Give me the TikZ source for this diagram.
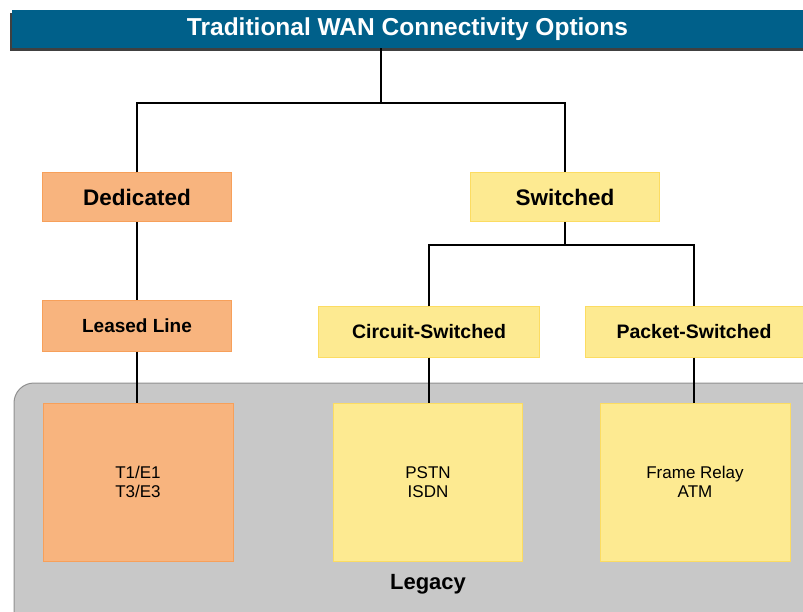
\documentclass[tikz,border=0pt]{standalone}
\usepackage{fontspec}
\setmainfont{Liberation Sans}
\definecolor{titleblue}{HTML}{00608A}
\definecolor{orfill}{HTML}{F8B47E}
\definecolor{ordraw}{HTML}{F7A05A}
\definecolor{yefill}{HTML}{FDEA91}
\definecolor{yedraw}{HTML}{FCDC62}
\definecolor{legfill}{HTML}{C8C8C8}
\definecolor{legdraw}{HTML}{909090}
\begin{document}
\begin{tikzpicture}[x=1pt, y=-1pt]
\tikzset{box/.style={rectangle, line width=1pt, inner sep=0pt, align=center}}
\tikzset{orbox/.style={box, fill=orfill, draw=ordraw}}
\tikzset{yebox/.style={box, fill=yefill, draw=yedraw}}
\tikzset{wire/.style={line width=2.2pt, black}}
\useasboundingbox (0,0) rectangle (803,612);
% legacy area
\draw[fill=legfill, draw=legdraw, line width=1pt, rounded corners=20pt] (14,383) rectangle (840,650);
\node[font=\bfseries\fontsize{22}{26}\selectfont] (legacy) at (428,584) {Legacy};
% title bar with its shadow
\fill[black!75] (10,13) rectangle (803,51);
\node[fill=titleblue, minimum width=791pt, minimum height=38pt, inner sep=0pt,
  text=white, font=\bfseries\fontsize{24.5}{28}\selectfont] (title) at (407.5,29) {Traditional WAN Connectivity Options};
% tree boxes
\node[orbox, minimum width=189pt, minimum height=49pt, font=\bfseries\fontsize{22.5}{26}\selectfont] (ded) at (137,197.5) {Dedicated};
\node[yebox, minimum width=189pt, minimum height=49pt, font=\bfseries\fontsize{22.5}{26}\selectfont] (sw) at (565,197.5) {Switched};
\node[orbox, minimum width=189pt, minimum height=50pt, font=\bfseries\fontsize{19}{22}\selectfont] (leased) at (137,326) {Leased Line};
\node[yebox, minimum width=221pt, minimum height=50pt, font=\bfseries\fontsize{19.5}{22}\selectfont] (circ) at (429,332) {Circuit-Switched};
\node[yebox, minimum width=218pt, minimum height=50pt, font=\bfseries\fontsize{19.5}{22}\selectfont] (pack) at (694,332) {Packet-Switched};
% legacy boxes
\node[orbox, minimum width=190pt, minimum height=158pt, font=\fontsize{17}{19}\selectfont] (t1) at (138,482) {T1/E1\\T3/E3};
\node[yebox, minimum width=189pt, minimum height=158pt, font=\fontsize{17}{19}\selectfont] (pstn) at (428,482) {PSTN\\ISDN};
\node[yebox, minimum width=190pt, minimum height=158pt, font=\fontsize{17}{19}\selectfont] (fr) at (695,482) {Frame Relay\\ATM};
% connectors
\coordinate (tjoin) at (381,103);
\coordinate (sjoin) at (565,245);
\draw[wire] (tjoin |- title.south) -- (tjoin);
\draw[wire] (ded.north) |- (tjoin) -| (sw.north);
\draw[wire] (ded) -- (leased);
\draw[wire] (sw.south) -- (sjoin);
\draw[wire] (circ.north) |- (sjoin) -| (pack.north);
\draw[wire] (leased.south) -- (leased.south |- t1.north);
\draw[wire] (circ.south) -- (circ.south |- pstn.north);
\draw[wire] (pack.south) -- (pack.south |- fr.north);
\end{tikzpicture}
\end{document}
